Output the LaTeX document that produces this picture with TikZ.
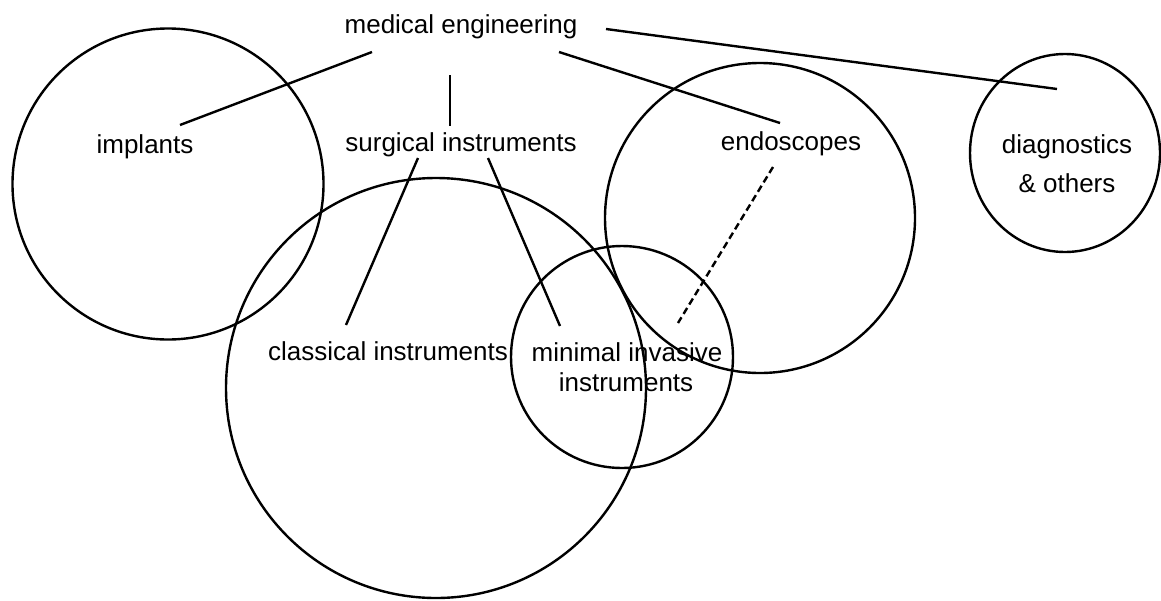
\documentclass[tikz,border=0pt]{standalone}
\usepackage{fontspec}
\setmainfont{Liberation Sans}
\begin{document}
\begin{tikzpicture}[x=1pt,y=-1pt,
  ring/.style={draw=black,line width=2.4pt},
  link/.style={draw=black,line width=2.4pt},
  dlink/.style={draw=black,line width=2.4pt,dash pattern=on 7pt off 4pt},
  lbl/.style={anchor=base,inner sep=0pt,font=\fontsize{26}{30}\selectfont}]
\useasboundingbox (0,0) rectangle (1161,600);
% circles
\draw[ring] (168,184) circle[radius=155.5];
\draw[ring] (436,388) circle[radius=210];
\draw[ring] (622,357) circle[radius=111];
\draw[ring] (760,218) circle[radius=155];
\draw[ring] (1065,153) ellipse[x radius=95,y radius=99];
% labels
\node[lbl] (med) at (461,33) {medical engineering};
\node[lbl] (imp) at (145,153) {implants};
\node[lbl] (sur) at (461,151) {surgical instruments};
\node[lbl] (endo) at (791,150) {endoscopes};
\node[lbl] (diag) at (1067,153) {diagnostics};
\node[lbl] (oth) at (1067,192) {\&~others};
\node[lbl] (cla) at (388,360) {classical instruments};
\node[lbl] (min) at (627,361) {minimal invasive};
\node[lbl] (mins) at (626,391) {instruments};
% connector end points
\coordinate (med-a) at (372,52);
\coordinate (imp-a) at (180,125);
\coordinate (med-b) at (450,75);
\coordinate (sur-b) at (450,126);
\coordinate (med-c) at (559,52);
\coordinate (endo-c) at (780,123);
\coordinate (med-d) at (606,29);
\coordinate (diag-d) at (1057,89);
\coordinate (sur-e) at (418,158);
\coordinate (cla-e) at (346,325);
\coordinate (sur-f) at (488,158);
\coordinate (min-f) at (560,326);
\coordinate (endo-g) at (773,167);
\coordinate (min-g) at (678,323);
% connectors
\draw[link] (med-a) -- (imp-a);
\draw[link] (med-b) -- (sur-b);
\draw[link] (med-c) -- (endo-c);
\draw[link] (med-d) -- (diag-d);
\draw[link] (sur-e) -- (cla-e);
\draw[link] (sur-f) -- (min-f);
\draw[dlink] (endo-g) -- (min-g);
\end{tikzpicture}
\end{document}
